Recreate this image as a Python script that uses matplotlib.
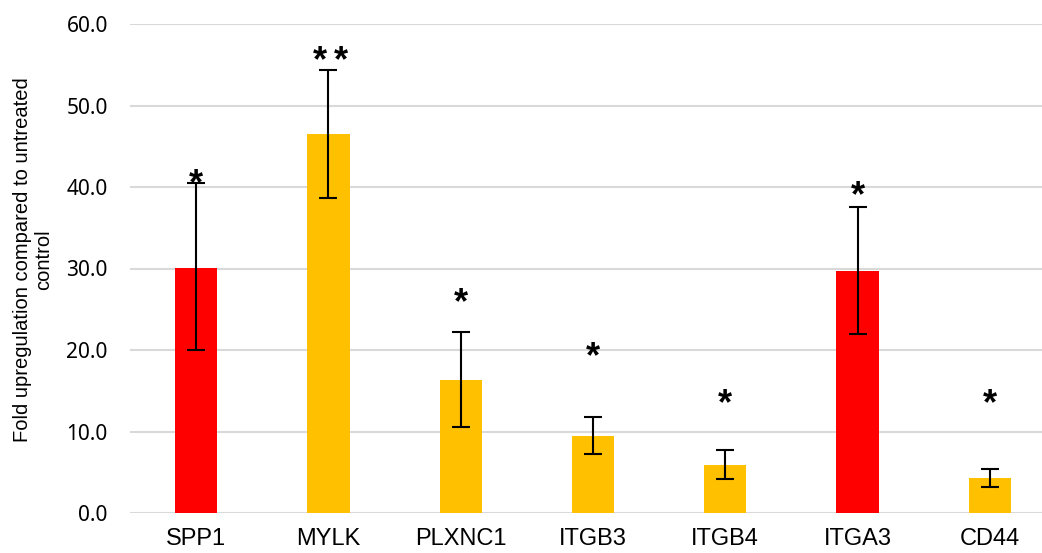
import matplotlib
matplotlib.use("Agg")
import matplotlib.pyplot as plt

genes = ["SPP1", "MYLK", "PLXNC1", "ITGB3", "ITGB4", "ITGA3", "CD44"]
values = [30.1, 46.5, 16.3, 9.5, 5.9, 29.7, 4.3]
err_low = [10.1, 7.8, 5.8, 2.2, 1.7, 7.7, 1.1]
err_high = [10.4, 7.8, 5.9, 2.3, 1.8, 7.9, 1.1]
colors = ["#FF0000", "#FFC000", "#FFC000", "#FFC000", "#FFC000", "#FF0000", "#FFC000"]
marks = ["*", "**", "*", "*", "*", "*", "*"]
mark_y = [41.1, 56.2, 26.5, 19.9, 14.1, 39.6, 14.1]
yticks = [0, 10, 20, 30, 40, 50, 60]

W, H = 1042, 553
fig = plt.figure(figsize=(W / 100, H / 100), dpi=100)
ax = fig.add_axes([130 / W, (H - 513) / H, (1056 - 130) / W, (513 - 24) / H])

x = list(range(len(genes)))
ax.bar(x, values, width=0.32, color=colors, zorder=2)
ax.errorbar(x, values, yerr=[err_low, err_high], fmt="none", ecolor="black",
            elinewidth=1.5, capsize=6.5, capthick=1.5, zorder=3)

fs_mark = 26
em_units = fs_mark * 100 / 72 / (489 / 60)  # em height in data units
for xi, m, my in zip(x, marks, mark_y):
    n = len(m)
    for k, ch in enumerate(m):
        dx = (k - (n - 1) / 2) * 0.152
        ax.text(xi + dx + (0.015 if n > 1 else 0), my - 0.44 * em_units, ch,
                ha="center", va="baseline", fontsize=fs_mark,
                fontweight="bold", family="Liberation Sans", zorder=4)

ax.set_xlim(-0.5, len(genes) - 0.5)
ax.set_ylim(0, 60)
ax.set_yticks(yticks)
ax.set_yticklabels([f"{v:.1f}" for v in yticks], family="Noto Sans", fontsize=15)
ax.set_xticks(x)
ax.set_xticklabels(genes, family="Liberation Sans", fontsize=17)
ax.tick_params(axis="both", length=0)
ax.tick_params(axis="y", pad=16)
ax.tick_params(axis="x", pad=11)
ax.yaxis.grid(True, color="#D9D9D9", linewidth=1.5, zorder=0)
ax.set_axisbelow(True)
for s in ax.spines.values():
    s.set_visible(False)

fig.text(33 / W, (H - 260) / H, "Fold upregulation compared to untreated\ncontrol",
         rotation=90, ha="center", va="center", multialignment="center",
         family="Liberation Sans", fontsize=14.5, linespacing=1.15)

fig.savefig("out.png", dpi=100)
